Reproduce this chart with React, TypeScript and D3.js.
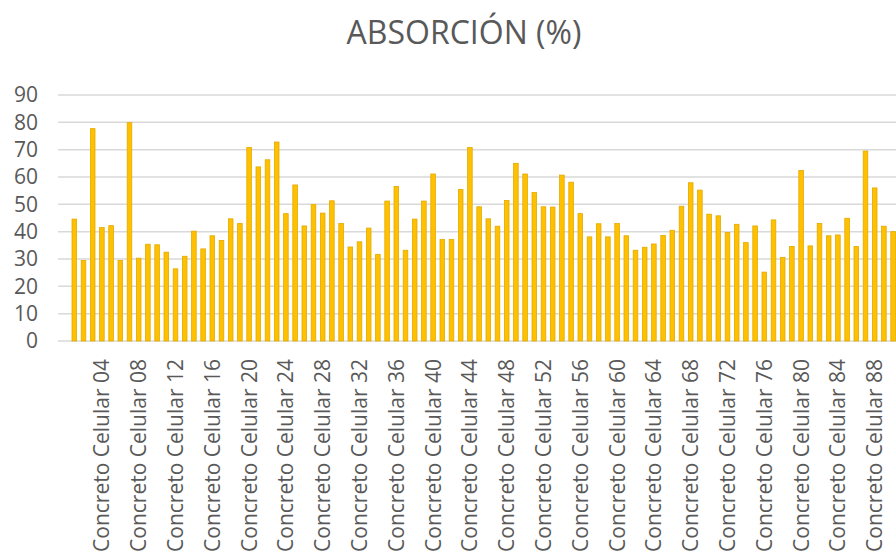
import React from 'react';
import * as d3 from 'd3';

// Absorción (%) por muestra
const absorcion: number[] = [
    44.6, 29.5, 77.7, 41.5, 42.2, 29.5, 79.9, 30.3, 35.4, 35.2,
    32.5, 26.4, 31.0, 40.2, 33.7, 38.5, 36.8, 44.7, 43.0, 70.8,
    63.7, 66.3, 72.8, 46.6, 57.1, 42.1, 49.9, 46.8, 51.3, 43.0,
    34.4, 36.3, 41.3, 31.7, 51.2, 56.5, 33.2, 44.6, 51.2, 61.1,
    37.1, 37.1, 55.4, 70.8, 49.1, 44.7, 42.0, 51.4, 65.0, 61.1,
    54.3, 49.1, 49.0, 60.7, 58.1, 46.6, 38.1, 42.9, 38.1, 43.0,
    38.5, 33.2, 34.3, 35.5, 38.6, 40.5, 49.3, 57.9, 55.2, 46.4,
    45.8, 39.7, 42.7, 36.0, 42.1, 25.2, 44.3, 30.6, 34.6, 62.4,
    34.8, 43.0, 38.5, 38.8, 44.9, 34.6, 69.5, 56.0, 42.0, 40.0,
];

const muestras: string[] = absorcion.map((_, i) => `Concreto Celular ${String(i + 1).padStart(2, '0')}`);
const yTicks: number[] = [0, 10, 20, 30, 40, 50, 60, 70, 80, 90];
const titulo = 'ABSORCIÓN (%)';

const width = 896;
const height = 556;
const font = '"Open Sans", "Noto Sans", sans-serif';

export default function App() {
    const x = d3.scaleBand<string>()
        .domain(muestras)
        .range([69.7, 897.7])
        .paddingInner(0.5)
        .paddingOuter(0.25);

    const y = d3.scaleLinear()
        .domain([0, 90])
        .range([341, 95]);

    // only every 4th category gets a label
    const labelled = muestras.filter((_, i) => (i + 1) % 4 === 0);

    return (
        <>
            <style>{`body{margin:0;background:#fff}`}</style>
            <svg width={width} height={height} style={{ display: 'block', fontFamily: font }}>
                <rect width={width} height={height} fill="#fff" />
                <text x={464} y={44} textAnchor="middle" fontSize={32} fill="#595959">{titulo}</text>

                {/* grid lines */}
                {yTicks.map(t => (
                    <line key={t} x1={58} x2={width} y1={y(t)} y2={y(t)} stroke="#D9D9D9" strokeWidth={1.5} />
                ))}
                {yTicks.map(t => (
                    <text key={'l' + t} x={38} y={y(t)} dy="0.35em" textAnchor="end" fontSize={21} fill="#595959">{t}</text>
                ))}

                {/* bars */}
                {absorcion.map((v, i) => (
                    <rect
                        key={i}
                        x={x(muestras[i])}
                        y={y(v)}
                        width={x.bandwidth()}
                        height={y(0) - y(v)}
                        fill="#FFC000"
                        stroke="#E3AA00"
                        strokeWidth={0.8}
                    />
                ))}

                {/* category labels */}
                {labelled.map(m => {
                    const cx = (x(m) ?? 0) + x.bandwidth() / 2;
                    return (
                        <text
                            key={m}
                            transform={`translate(${cx},359) rotate(-90)`}
                            dy="0.36em"
                            textAnchor="end"
                            fontSize={21}
                            fill="#595959"
                        >{m}</text>
                    );
                })}
            </svg>
        </>
    );
}
